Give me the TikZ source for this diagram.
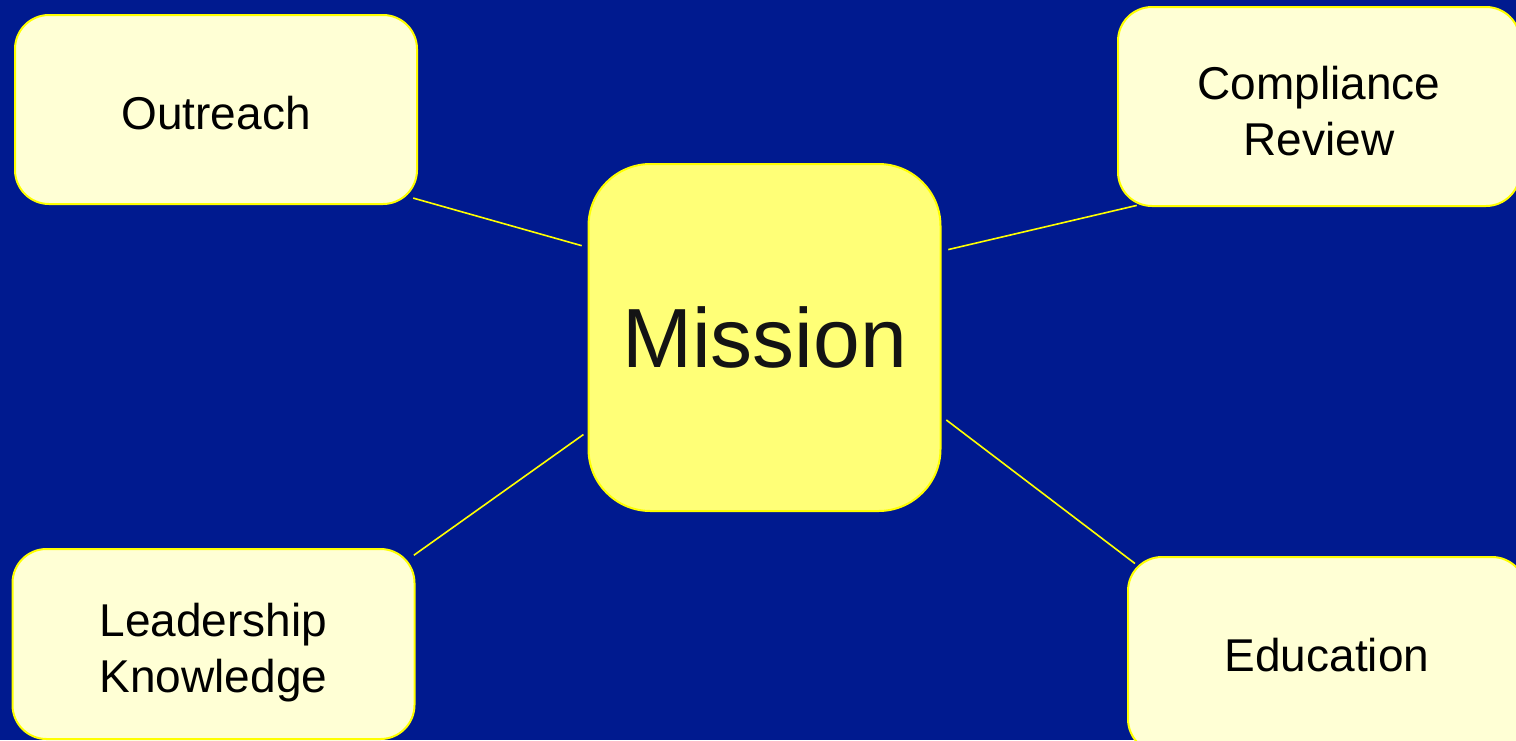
\documentclass[tikz,border=0pt]{standalone}
\usepackage{fontspec}
\setmainfont{Liberation Sans}
\definecolor{bgblue}{RGB}{0,26,143}
\definecolor{paleyellow}{RGB}{255,255,213}
\definecolor{missionyellow}{RGB}{255,255,119}
\definecolor{lineyellow}{RGB}{255,255,0}
\definecolor{missiontext}{RGB}{20,20,20}
\usetikzlibrary{positioning}

\begin{document}
\begin{tikzpicture}[x=1pt,y=-1pt,
  topic/.style={draw=lineyellow,line width=2pt,fill=paleyellow,rounded corners=34pt,
    minimum width=402pt,minimum height=192pt,inner sep=0pt,align=center,
    font=\fontsize{46}{56}\selectfont},
  core/.style={draw=lineyellow,line width=2pt,fill=missionyellow,rounded corners=62pt,
    minimum width=352pt,minimum height=347pt,inner sep=0pt,text=missiontext,
    font=\fontsize{84}{96}\selectfont},
  link/.style={draw=lineyellow,line width=1.6pt}
]
  \useasboundingbox (0,0) rectangle (1516,740);
  \clip (0,0) rectangle (1516,740);
  \fill[bgblue] (0,0) rectangle (1516,740);

  % centre
  \node[core] (mission) at (764.5,337.5) {Mission};

  % corners
  \node[topic,minimum height=189pt,text height=41pt] (outreach) at (216,109.5) {Outreach};
  \node[topic,minimum height=199pt,text height=97.5pt] (compliance) at (1319,106.5) {Compliance\\Review};
  \node[topic,minimum height=190pt,text height=106pt] (leadership) at (213.5,644) {Leadership\\Knowledge};
  \node[topic,minimum width=398pt,minimum height=196pt] (education) at (1327,655) {Education};

  % links
  \draw[link,shorten >=6pt,shorten <=-5pt] (outreach.-24) -- (mission.153);
  \draw[link,shorten <=7pt,shorten >=-7pt] (mission.26) -- (compliance.208);
  \draw[link,shorten <=5pt,shorten >=-2pt] (mission.208) -- (leadership.24);
  \draw[link,shorten <=6pt,shorten >=-10pt] (mission.-24) -- (education.154);
\end{tikzpicture}
\end{document}
